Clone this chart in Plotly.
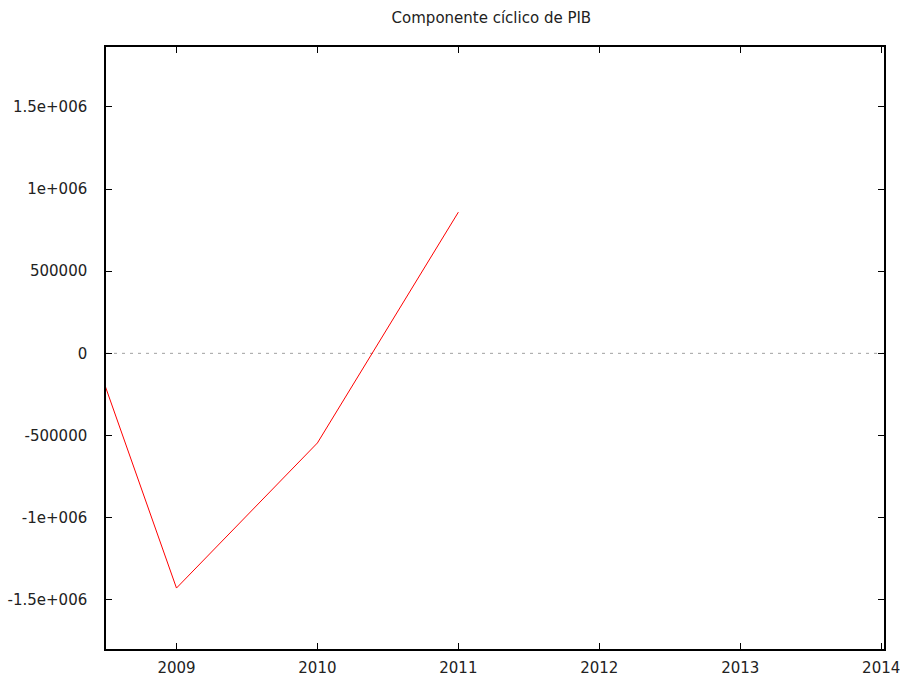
import plotly.graph_objects as go

years = [2008, 2009, 2010, 2011]
ciclo = [1003000, -1429000, -545600, 859500]
x_ticks = [2009, 2010, 2011, 2012, 2013, 2014]
y_ticks = [-1500000, -1000000, -500000, 0, 500000, 1000000, 1500000]
y_labels = ["-1.5e+006", "-1e+006", "-500000", "0", "500000", "1e+006", "1.5e+006"]

fig = go.Figure()
fig.add_trace(go.Scatter(x=[2008.5, 2014.02], y=[0, 0], mode="lines",
                         line=dict(color="#a0a0a0", width=1, dash="3px,5px"),
                         hoverinfo="skip", showlegend=False))
fig.add_trace(go.Scatter(x=years, y=ciclo, mode="lines",
                         line=dict(color="#ff0000", width=1), showlegend=False))

font = dict(family="DejaVu Sans", size=15, color="#222222")
fig.update_layout(
    width=900, height=678,
    margin=dict(l=106, r=16, t=47, b=29, autoexpand=False),
    plot_bgcolor="white", paper_bgcolor="white",
    font=font,
    title=dict(text="Componente cíclico de PIB", x=0.546, xanchor="center",
               y=1 - 18/678, yanchor="middle", font=dict(family="DejaVu Sans", size=15, color="#222222")),
    xaxis=dict(range=[2008.5, 2014.02], tickvals=x_ticks, ticktext=[str(v) for v in x_ticks],
               ticks="inside", ticklen=6, tickcolor="black", showgrid=False, zeroline=False,
               showline=True, linecolor="black", linewidth=1.5, mirror="allticks", ticklabelstandoff=4,
               automargin=False, ticklabeloverflow="allow"),
    yaxis=dict(range=[-1800000, 1865000], tickvals=y_ticks, ticktext=y_labels,
               ticks="inside", ticklen=6, tickcolor="black", showgrid=False, zeroline=False,
               showline=True, linecolor="black", linewidth=1.5, mirror="allticks", ticklabelstandoff=14,
               automargin=False, ticklabeloverflow="allow"),
)
fig.write_html("out.html", config={"displayModeBar": False},
               post_script="document.body.style.margin='0';document.body.style.overflow='hidden';")
